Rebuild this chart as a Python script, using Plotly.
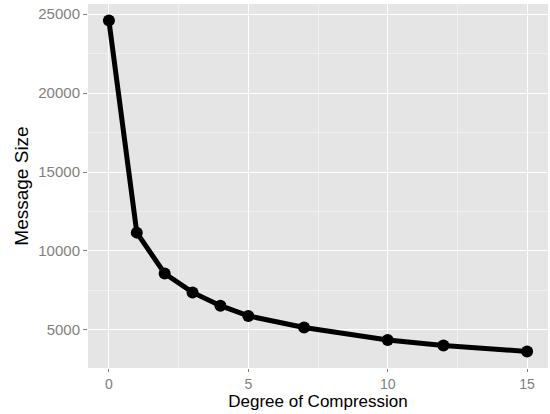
import plotly.graph_objects as go

degree = [0, 1, 2, 3, 4, 5, 7, 10, 12, 15]
message_size = [24600, 11160, 8570, 7370, 6530, 5880, 5150, 4350, 4010, 3630]

x_ticks = [0, 5, 10, 15]
y_ticks = [5000, 10000, 15000, 20000, 25000]

xr = max(degree) - min(degree)
yr = max(message_size) - min(message_size)

fig = go.Figure(go.Scatter(
    x=degree, y=message_size, mode="lines+markers",
    line=dict(color="black", width=5),
    marker=dict(color="black", size=12),
))

font = "Liberation Sans, Arial, sans-serif"
fig.update_layout(
    width=550, height=414,
    margin=dict(l=88, r=2, t=4, b=46),
    paper_bgcolor="white", plot_bgcolor="#e5e5e5",
    showlegend=False,
    font=dict(family=font),
)
fig.update_xaxes(
    automargin=False,
    range=[min(degree) - 0.05 * xr, max(degree) + 0.05 * xr],
    tickvals=x_ticks, ticktext=[str(v) for v in x_ticks],
    ticks="outside", ticklen=3, tickcolor="#7f7f7f", tickwidth=1,
    tickfont=dict(size=14, color="#7f7f7f"),
    gridcolor="white", gridwidth=1.3, zeroline=False, showline=False,
    minor=dict(tickvals=[-2.5, 2.5, 7.5, 12.5], gridcolor="#f0f0f0", gridwidth=0.6, ticks=""),
    title=dict(text="Degree of Compression", font=dict(size=17, color="black"), standoff=3),
)
fig.update_yaxes(
    automargin=False,
    range=[min(message_size) - 0.05 * yr, max(message_size) + 0.05 * yr],
    tickvals=y_ticks, ticktext=[str(v) for v in y_ticks],
    ticks="outside", ticklen=4, tickcolor="#7f7f7f", tickwidth=1,
    tickfont=dict(size=15, color="#7f7f7f"),
    gridcolor="white", gridwidth=1.3, zeroline=False, showline=False,
    minor=dict(tickvals=[2500, 7500, 12500, 17500, 22500], gridcolor="#f0f0f0", gridwidth=0.6, ticks=""),
    title=dict(text="Message Size", font=dict(size=19, color="black"), standoff=4),
)

fig.write_html(
    "out.html",
    config={"displayModeBar": False},
    post_script="document.body.style.margin='0';document.body.style.overflow='hidden';",
)
